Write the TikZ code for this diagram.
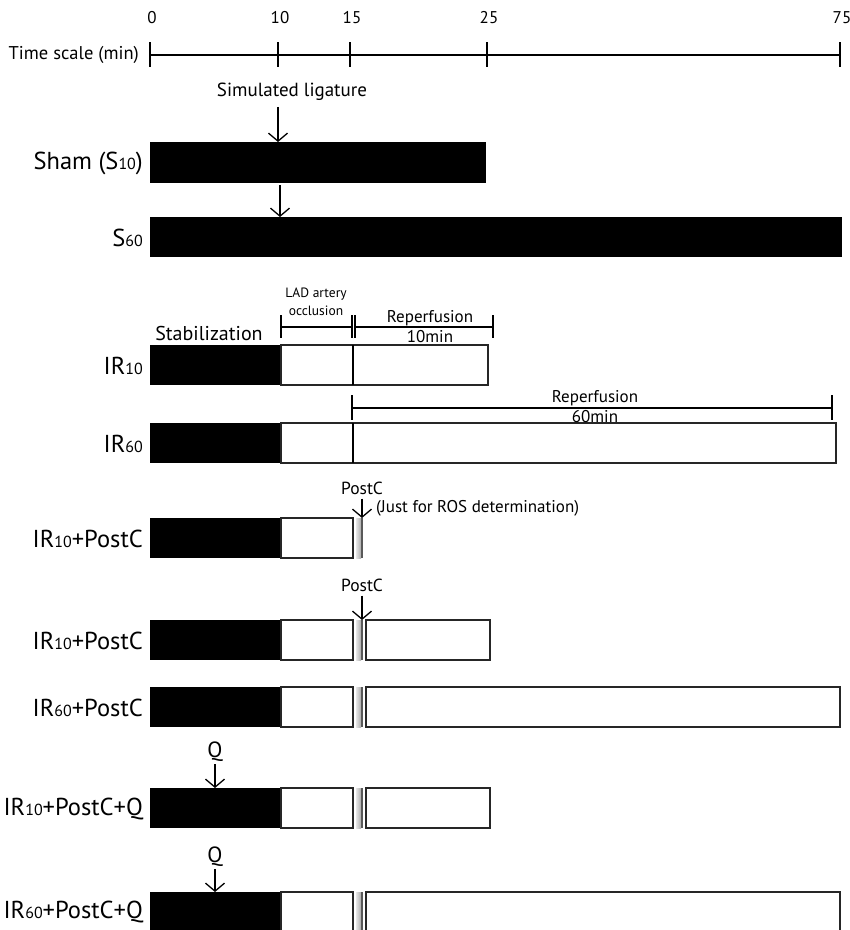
\documentclass[tikz,border=0pt]{standalone}
\usepackage{fontspec}
\setmainfont{PT Sans}
\usetikzlibrary{arrows.meta, positioning, calc}

\newcommand{\sdig}[1]{{\fontsize{16}{16}\selectfont #1}}

\tikzset{
  rowlbl/.style={anchor=east, inner sep=0pt, font=\fontsize{24.5}{28}\selectfont},
  txt/.style={inner sep=0pt, font=\fontsize{17}{20}\selectfont},
  box/.style={draw=black!85, line width=1.4pt, fill=white},
  arr/.style={-{Straight Barb[length=8pt,width=19pt]}, line width=1.3pt},
  bracket/.style={line width=1.3pt},
}

\begin{document}
\begin{tikzpicture}[x=1pt, y=-1pt]
  \useasboundingbox (0,0) rectangle (850,930);

  % Time scale
  \node[txt, anchor=east, font=\fontsize{18.5}{22}\selectfont] (tscale) at (139,55) {Time scale (min)};
  \draw[bracket] (150,55) -- (839,55);
  \foreach \x/\t in {150/0, 278/10, 350/15, 487/25, 840/75} {
    \draw[bracket] (\x,42) -- (\x,67);
    \node[txt, font=\fontsize{17}{20}\selectfont] (t\t) at (\x+2,18) {\t};
  }

  % Sham groups
  \node[txt, font=\fontsize{19}{22}\selectfont] (sim) at (292,92) {Simulated ligature};
  \coordinate (shamtop) at (278,142);
  \draw[arr] (sim.south -| shamtop) ++(0,6) -- (shamtop);
  \fill (150,142) rectangle (486,183);
  \node[rowlbl] (sham) at (143,163) {Sham (S\sdig{10})};
  \coordinate (shambot) at (280,185);
  \coordinate (s60top) at (280,217);
  \draw[arr] (shambot) -- (s60top);
  \fill (150,217) rectangle (842,257);
  \node[rowlbl] (s60) at (143,238) {S\sdig{60}};

  % Phase brackets
  \node[txt, align=center, font=\fontsize{13.5}{18}\selectfont] (lad) at (316,302) {LAD artery\\occlusion};
  \draw[bracket] (281,315) -- (281,338) (352,315) -- (352,338) (281,327) -- (352,327);
  \draw[bracket] (355,315) -- (355,338) (493,315) -- (493,338) (355,327) -- (493,327);
  \node[txt, align=center] (rep10) at (430,327) {Reperfusion\\10min};
  \node[txt, font=\fontsize{20}{23}\selectfont] (stab) at (209,333) {Stabilization};

  % IR10
  \fill (150,345) rectangle (281,385);
  \draw[box] (281,345) rectangle (353,385);
  \draw[box] (353,345) rectangle (488,385);
  \draw[line width=2.6pt] (353,345) -- (353,385);
  \node[rowlbl] (ir10) at (143,366) {IR\sdig{10}};

  % IR60
  \draw[bracket] (352,395) -- (352,420) (832,395) -- (832,420) (352,408) -- (832,408);
  \fill (150,423) rectangle (281,463);
  \draw[box] (281,423) rectangle (353,463);
  \draw[box] (353,423) rectangle (836,463);
  \draw[line width=2.6pt] (353,423) -- (353,463);
  \node[txt, align=center] (rep60) at (595,407) {Reperfusion\\60min};
  \node[rowlbl] (ir60) at (143,444) {IR\sdig{60}};

  % IR10+PostC (ROS only)
  \fill (150,518) rectangle (281,558);
  \draw[box] (281,518) rectangle (353,558);
  \shade[left color=gray!20, right color=gray!65] (356,518) rectangle (361,558);
  \draw[black!65, line width=2.2pt] (362,518) -- (362,558);
  \node[txt, font=\fontsize{17.5}{20}\selectfont] (pc1) at (362,488) {PostC};
  \coordinate (pc1bar) at (362,518);
  \draw[arr] (pc1.south) ++(0,4) -- (pc1bar);
  \node[txt, anchor=west, font=\fontsize{17}{20}\selectfont] (ros) at (376,508) {(Just for ROS determination)};
  \node[rowlbl] (ir10pca) at (143,539) {IR\sdig{10}+PostC};

  % IR10+PostC
  \fill (150,620) rectangle (281,660);
  \draw[box] (281,620) rectangle (353,660);
  \shade[left color=gray!20, right color=gray!65] (356,620) rectangle (361,660);
  \draw[black!65, line width=2.2pt] (362,620) -- (362,660);
  \draw[box] (366,620) rectangle (490,660);
  \node[txt, font=\fontsize{17.5}{20}\selectfont] (pc2) at (362,585) {PostC};
  \coordinate (pc2bar) at (362,620);
  \draw[arr] (pc2.south) ++(0,4) -- (pc2bar);
  \node[rowlbl] (ir10pc) at (143,641) {IR\sdig{10}+PostC};

  % IR60+PostC
  \fill (150,687) rectangle (281,727);
  \draw[box] (281,687) rectangle (353,727);
  \shade[left color=gray!20, right color=gray!65] (356,687) rectangle (361,727);
  \draw[black!65, line width=2.2pt] (362,687) -- (362,727);
  \draw[box] (366,687) rectangle (840,727);
  \node[rowlbl] (ir60pc) at (143,708) {IR\sdig{60}+PostC};

  % IR10+PostC+Q
  \fill (150,788) rectangle (281,828);
  \draw[box] (281,788) rectangle (353,828);
  \shade[left color=gray!20, right color=gray!65] (356,788) rectangle (361,828);
  \draw[black!65, line width=2.2pt] (362,788) -- (362,828);
  \draw[box] (366,788) rectangle (490,828);
  \node[txt, font=\fontsize{22}{24}\selectfont] (q1) at (215,752) {Q};
  \coordinate (q1bar) at (215,788);
  \draw[arr] (q1.south) ++(0,2) -- (q1bar);
  \node[rowlbl] (ir10pcq) at (143,809) {IR\sdig{10}+PostC+Q};

  % IR60+PostC+Q
  \fill (150,892) rectangle (281,935);
  \draw[box] (281,892) rectangle (353,935);
  \shade[left color=gray!20, right color=gray!65] (356,892) rectangle (361,935);
  \draw[black!65, line width=2.2pt] (362,892) -- (362,935);
  \draw[box] (366,892) rectangle (840,935);
  \node[txt, font=\fontsize{22}{24}\selectfont] (q2) at (215,857) {Q};
  \coordinate (q2bar) at (215,892);
  \draw[arr] (q2.south) ++(0,2) -- (q2bar);
  \node[rowlbl] (ir60pcq) at (143,912) {IR\sdig{60}+PostC+Q};
\end{tikzpicture}
\end{document}
